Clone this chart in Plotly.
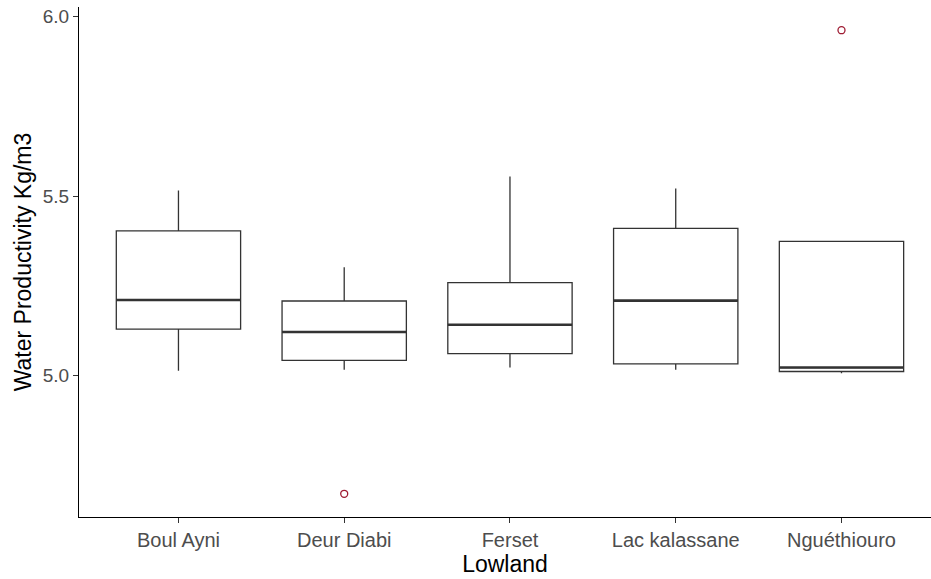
import plotly.graph_objects as go

# ---- data ----
lowlands = ["Boul Ayni", "Deur Diabi", "Ferset", "Lac kalassane", "Nguéthiouro"]
q1 = [5.130, 5.043, 5.062, 5.033, 5.012]
median = [5.211, 5.122, 5.142, 5.209, 5.023]
q3 = [5.403, 5.208, 5.259, 5.410, 5.374]
lower_whisker = [5.014, 5.017, 5.023, 5.017, 5.007]
upper_whisker = [5.515, 5.302, 5.554, 5.521, 5.374]
outlier_group = ["Deur Diabi", "Nguéthiouro"]
outlier_value = [4.672, 5.961]
y_ticks = [5.0, 5.5, 6.0]

BOX_W = 0.75
pos = list(range(len(lowlands)))
FONT = "Liberation Sans, Arial, sans-serif"
LINE = "#333333"

fig = go.Figure()
for i, name in enumerate(lowlands):
    fig.add_trace(go.Box(
        x=[pos[i]], q1=[q1[i]], median=[median[i]], q3=[q3[i]],
        lowerfence=[lower_whisker[i]], upperfence=[upper_whisker[i]],
        width=BOX_W, boxpoints=False, fillcolor="white",
        line=dict(color=LINE, width=1.3), whiskerwidth=0,
        showlegend=False, name=name,
    ))

# thicker median lines, as in ggplot
mx, my = [], []
for i in pos:
    mx += [i - BOX_W / 2, i + BOX_W / 2, None]
    my += [median[i], median[i], None]
fig.add_trace(go.Scatter(x=mx, y=my, mode="lines",
                         line=dict(color=LINE, width=2.6), showlegend=False,
                         hoverinfo="skip"))

# outliers
fig.add_trace(go.Scatter(
    x=[lowlands.index(g) for g in outlier_group], y=outlier_value,
    mode="markers",
    marker=dict(symbol="circle-open", size=7, color="#9E1B32", line=dict(width=1.3)),
    showlegend=False,
))

fig.update_layout(
    width=931, height=579,
    margin=dict(l=79, r=0, t=7, b=62),
    plot_bgcolor="white", paper_bgcolor="white",
    font=dict(family=FONT),
    xaxis=dict(
        range=[-0.6, 4.54], tickvals=pos, ticktext=lowlands,
        showline=True, linecolor="black", linewidth=1.2,
        ticks="outside", ticklen=5, tickcolor=LINE,
        tickfont=dict(size=20, color="#4D4D4D", family=FONT),
        showgrid=False, zeroline=False, automargin=False,
        title=dict(text="Lowland", font=dict(size=23, color="black", family=FONT), standoff=0),
    ),
    yaxis=dict(
        range=[4.6075, 6.0255], tickvals=y_ticks, ticktext=[f"{v:.1f}" for v in y_ticks],
        showline=True, linecolor="black", linewidth=1.2,
        ticks="outside", ticklen=5, tickcolor=LINE,
        tickfont=dict(size=19, color="#4D4D4D", family=FONT),
        showgrid=False, zeroline=False, automargin=False,
        title=dict(text="Water Productivity Kg/m3", font=dict(size=23, color="black", family=FONT), standoff=4),
    ),
)

fig.write_html("out.html", config={"displayModeBar": False},
               post_script="document.body.style.margin='0px';document.body.style.overflow='hidden';")
